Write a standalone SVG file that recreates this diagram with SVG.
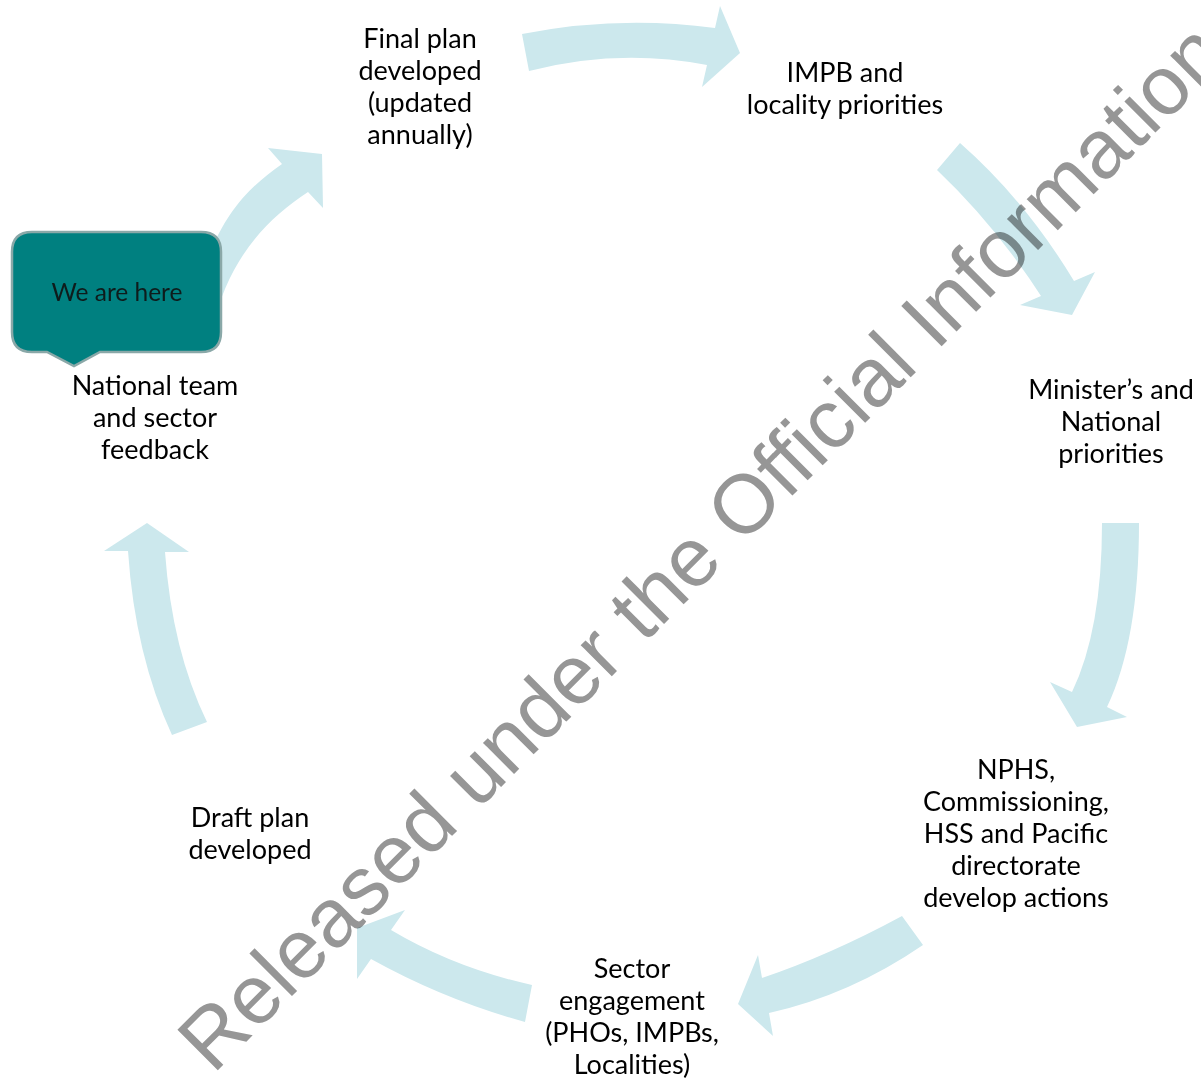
<svg xmlns="http://www.w3.org/2000/svg" width="1201" height="1081" viewBox="0 0 1201 1081">
<style>
.arrow{fill:#cce8ed;stroke:none}
.lbl{font-family:Lato,"Open Sans","Liberation Sans",sans-serif;font-size:27px;fill:#000;text-anchor:middle}
.call{fill:#008080;stroke:#8aa8a8;stroke-width:2.5}
.calltxt{font-family:Lato,"Open Sans","Liberation Sans",sans-serif;font-size:24.5px;fill:#0e1c1c;text-anchor:middle}
.wm{font-family:"Liberation Sans",Arial,sans-serif;font-size:83px;fill:#969696;mix-blend-mode:multiply}
</style>
<rect width="1201" height="1081" fill="#fff"/>
<g id="connectors">
<path id="arrowA" class="arrow" d="M522,34 Q618,15 715,28 L720,6 L740,53 L702,87 L707,65 Q618,48 529,71 Z"/>
<path id="arrowB" class="arrow" d="M937,170 Q995,225 1041,296 L1020,305 L1072,315 L1095,272 L1074,281 Q1025,200 960,143 Z"/>
<path id="arrowC" class="arrow" d="M1102,523 Q1102,630 1072,692 L1050,682 L1077,727 L1127,717 L1107,707 Q1139,640 1139,523 Z"/>
<path id="arrowD" class="arrow" d="M902,916 Q830,955 762,978 L758,955 L738,1004 L773,1036 L769,1013 Q850,995 923,945 Z"/>
<path id="arrowE" class="arrow" d="M532,985 Q455,968 391,930 L405,910 L357,928 L357,979 L371,959 Q445,1000 525,1022 Z"/>
<path id="arrowF" class="arrow" d="M172,735 Q135,655 128,551 L104,551 L147,523 L189,552 L165,552 Q172,650 207,722 Z"/>
<path id="arrowG" class="arrow" d="M212,330 C228,260 265,220 308,192 L323,208 L322,154 L268,148 L282,164 C245,190 215,220 195,300 Z"/>
</g>
<g id="node-final">
<text class="lbl" x="420" y="48">Final plan</text>
<text class="lbl" x="420" y="80">developed</text>
<text class="lbl" x="420" y="112">(updated</text>
<text class="lbl" x="420" y="144">annually)</text>
</g>
<g id="node-impb">
<text class="lbl" x="845" y="82">IMPB and</text>
<text class="lbl" x="845" y="114">locality priorities</text>
</g>
<g id="node-minister">
<text class="lbl" x="1111" y="399">Minister’s and</text>
<text class="lbl" x="1111" y="431">National</text>
<text class="lbl" x="1111" y="463">priorities</text>
</g>
<g id="node-nphs">
<text class="lbl" x="1016" y="779">NPHS,</text>
<text class="lbl" x="1016" y="811">Commissioning,</text>
<text class="lbl" x="1016" y="843">HSS and Pacific</text>
<text class="lbl" x="1016" y="875">directorate</text>
<text class="lbl" x="1016" y="907">develop actions</text>
</g>
<g id="node-sector">
<text class="lbl" x="632" y="978">Sector</text>
<text class="lbl" x="632" y="1010">engagement</text>
<text class="lbl" x="632" y="1042">(PHOs, IMPBs,</text>
<text class="lbl" x="632" y="1074">Localities)</text>
</g>
<g id="node-draft">
<text class="lbl" x="250" y="826.5">Draft plan</text>
<text class="lbl" x="250" y="858.5">developed</text>
</g>
<g id="node-national">
<text class="lbl" x="155" y="395">National team</text>
<text class="lbl" x="155" y="427">and sector</text>
<text class="lbl" x="155" y="459">feedback</text>
</g>
<g id="callout">
<path class="call" d="M32,232 H201 Q221,232 221,252 V332 Q221,352 201,352 H100 L74,366 L47,352 H32 Q12,352 12,332 V252 Q12,232 32,232 Z"/>
<text class="calltxt" x="117" y="301">We are here</text>
</g>
<g id="watermark">
<text class="wm" transform="translate(213,1075) rotate(-45)">Released under the Official Information</text>
</g>
</svg>
